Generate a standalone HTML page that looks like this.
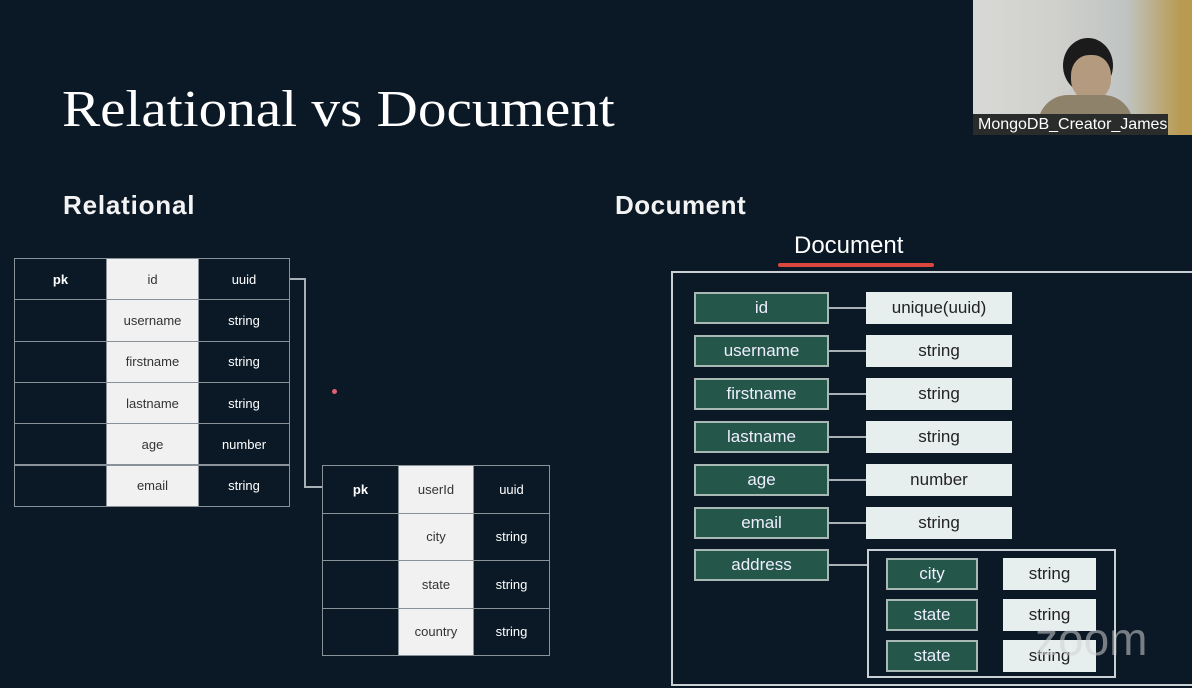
<!DOCTYPE html>
<html><head><style>
body{margin:0;width:1192px;height:688px;background:#0b1926;position:relative;overflow:hidden;font-family:"Liberation Sans",sans-serif;color:#fff}
.a{position:absolute;box-sizing:border-box;display:flex;align-items:center;justify-content:center}
.c{border:1.5px solid #8a9299;font-size:13px}
.w{background:#f1f1f1;color:#333}
.k{background:#24574a;border:2px solid #a9b8b2;color:#eef;font-size:17px}
.v{background:#e6eeee;color:#222;font-size:17px}
.l{position:absolute;background:#a7b0b5}
</style></head><body>
<div class="a" style="left:62px;top:80px;font-family:'Liberation Serif',serif;font-size:52px;justify-content:flex-start;transform:scaleX(1.1);transform-origin:0 0">Relational vs Document</div>
<div class="a" style="left:63px;top:190px;font-size:26px;font-weight:bold;color:#f3f3f3;letter-spacing:0.8px">Relational</div>
<div class="a" style="left:615px;top:190px;font-size:26px;font-weight:bold;color:#f3f3f3;letter-spacing:0.5px">Document</div>
<div class="a" style="left:794px;top:232px;font-size:24px">Document</div>
<div style="position:absolute;left:778px;top:263px;width:156px;height:4px;border-radius:3px;background:#d9473f"></div>
<div style="position:absolute;left:973px;top:0;width:219px;height:135px;background:linear-gradient(90deg,#d8d8d6,#cfcfcc 40%,#bfc4c2 70%,#b89a50 95%)">
<div style="position:absolute;left:90px;top:38px;width:50px;height:55px;border-radius:50%;background:#1b1b1b"></div>
<div style="position:absolute;left:98px;top:55px;width:40px;height:45px;border-radius:45%;background:#b49a7e"></div>
<div style="position:absolute;left:65px;top:95px;width:95px;height:40px;border-radius:30px 30px 0 0;background:#8e836a"></div>
<div style="position:absolute;left:0;top:114px;width:195px;height:21px;background:#2a2c2c;color:#fff;font-size:16px;padding-left:5px;box-sizing:border-box;line-height:21px">MongoDB_Creator_James</div>
</div>
<div id="t1"></div>
<script>
var h='';
var names=['id','username','firstname','lastname','age','email'],types=['uuid','string','string','string','number','string'];
for(var i=0;i<6;i++){var y=258+i*41.3;
h+='<div class="a c" style="left:14px;top:'+y+'px;width:93px;height:42.3px;font-weight:bold">'+(i?'':'pk')+'</div>';
h+='<div class="a c w" style="left:106px;top:'+y+'px;width:93px;height:42.3px">'+names[i]+'</div>';
h+='<div class="a c" style="left:198px;top:'+y+'px;width:92px;height:42.3px">'+types[i]+'</div>';}
var n2=['userId','city','state','country'],t2=['uuid','string','string','string'];
for(i=0;i<4;i++){var y=465+i*47.5;
h+='<div class="a c" style="left:322px;top:'+y+'px;width:77px;height:48.5px;font-weight:bold">'+(i?'':'pk')+'</div>';
h+='<div class="a c w" style="left:398px;top:'+y+'px;width:76px;height:48.5px">'+n2[i]+'</div>';
h+='<div class="a c" style="left:473px;top:'+y+'px;width:77px;height:48.5px">'+t2[i]+'</div>';}
var dk=['id','username','firstname','lastname','age','email','address'],dv=['unique(uuid)','string','string','string','number','string'];
var ys=[292,335,378,421,464,507,549];
for(i=0;i<7;i++){
h+='<div class="a k" style="left:694px;top:'+ys[i]+'px;width:135px;height:32px">'+dk[i]+'</div>';
h+='<div class="l" style="left:829px;top:'+(ys[i]+15)+'px;width:'+(i<6?37:38)+'px;height:2px"></div>';
if(i<6)h+='<div class="a v" style="left:866px;top:'+ys[i]+'px;width:146px;height:32px">'+dv[i]+'</div>';}
var ik=['city','state','state'],iy=[558,599,640];
for(i=0;i<3;i++){
h+='<div class="a k" style="left:886px;top:'+iy[i]+'px;width:92px;height:32px">'+ik[i]+'</div>';
h+='<div class="a v" style="left:1003px;top:'+iy[i]+'px;width:93px;height:32px">string</div>';}
document.getElementById('t1').outerHTML=h;
</script>
<div class="l" style="left:290px;top:278px;width:16px;height:2px"></div>
<div class="l" style="left:304px;top:278px;width:2px;height:210px"></div>
<div class="l" style="left:304px;top:486px;width:18px;height:2px"></div>
<div style="position:absolute;left:332px;top:389px;width:5px;height:5px;border-radius:50%;background:#e06070"></div>
<div style="position:absolute;left:671px;top:271px;width:540px;height:415px;border:2px solid #c9d0d3;box-sizing:border-box"></div>
<div style="position:absolute;left:867px;top:549px;width:249px;height:129px;border:2px solid #c9d0d3;box-sizing:border-box"></div>
<div class="a" style="left:1035px;top:612px;font-size:46px;color:rgba(210,210,210,.55)">zoom</div>
</body></html>
